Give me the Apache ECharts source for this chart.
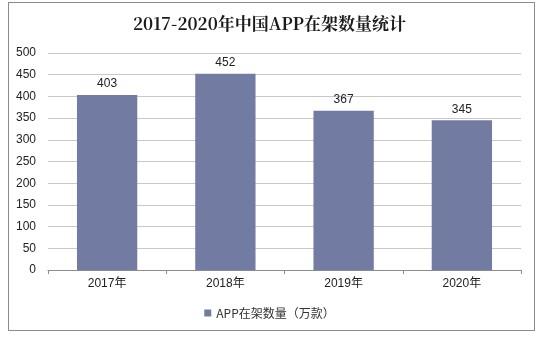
<!DOCTYPE html>
<html>
<head>
<meta charset="utf-8">
<script src="https://cdn.jsdelivr.net/npm/echarts@6/dist/echarts.min.js"></script>
<style>
html,body{margin:0;padding:0;background:#fff;}
#frame{position:absolute;left:8px;top:2px;width:527px;height:329px;border:1px solid #8c8c8c;box-sizing:border-box;}
#chart{position:absolute;left:0;top:0;width:539px;height:338px;}
</style>
</head>
<body>
<div id="frame"></div>
<div id="chart"></div>
<script>
const categories = ['2017年', '2018年', '2019年', '2020年'];
const appCounts = [403, 452, 367, 345];
const yTicks = [0, 50, 100, 150, 200, 250, 300, 350, 400, 450, 500];
const seriesName = 'APP在架数量（万款）';

const chart = echarts.init(document.getElementById('chart'), null, {renderer: 'canvas'});
chart.setOption({
  animation: false,
  title: {
    text: '2017-2020年中国APP在架数量统计',
    left: 'center',
    top: 10,
    textStyle: {fontFamily: '"Noto Serif CJK SC","Liberation Serif",serif', fontWeight: 'bold', fontSize: 17, color: '#1a1a1a'}
  },
  legend: {
    data: [seriesName],
    bottom: 14,
    left: 'center',
    icon: 'rect',
    itemWidth: 7,
    itemHeight: 7,
    itemGap: 4,
    textStyle: {fontFamily: '"Noto Sans CJK SC",sans-serif', fontSize: 12, color: '#333'}
  },
  grid: {left: 48, right: 18, top: 53, bottom: 68},
  xAxis: {
    type: 'category',
    data: categories,
    axisLine: {lineStyle: {color: '#8c8c8c'}},
    axisTick: {show: true, length: 4, lineStyle: {color: '#8c8c8c'}},
    axisLabel: {fontFamily: '"Liberation Sans","Noto Sans CJK SC",sans-serif', fontSize: 12, color: '#222', margin: 8}
  },
  yAxis: {
    type: 'value',
    min: yTicks[0],
    max: yTicks[yTicks.length - 1],
    interval: yTicks[1] - yTicks[0],
    axisLine: {show: false},
    axisTick: {show: false},
    splitLine: {lineStyle: {color: '#c8c8c8'}},
    axisLabel: {fontFamily: '"Liberation Sans",sans-serif', fontSize: 12, color: '#222', margin: 12}
  },
  series: [{
    name: seriesName,
    type: 'bar',
    data: appCounts,
    barWidth: '51%',
    itemStyle: {color: '#727ca3'},
    label: {show: true, position: 'top', distance: 5, fontFamily: '"Liberation Sans",sans-serif', fontSize: 12, color: '#222'}
  }]
});
</script>
</body>
</html>
